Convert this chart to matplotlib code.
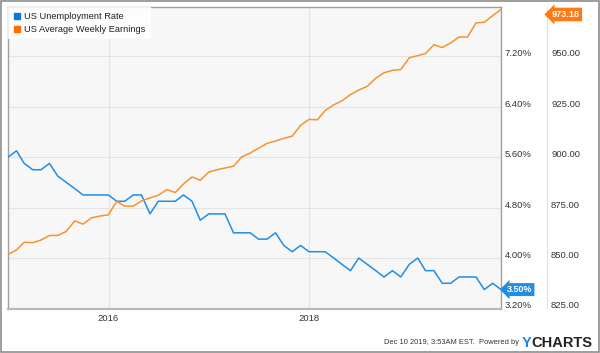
import matplotlib.pyplot as plt
import pandas as pd
from matplotlib.patches import Rectangle
from matplotlib.lines import Line2D

plt.rcParams['font.family'] = ['Liberation Sans', 'DejaVu Sans']

# monthly, Dec 2014 - Nov 2019 (month-end dates)
dates = pd.date_range('2014-12-31', '2019-11-30', freq='ME')
unemployment = [5.6, 5.7, 5.5, 5.4, 5.4, 5.5, 5.3, 5.2, 5.1, 5.0,
                5.0, 5.0, 5.0, 4.9, 4.9, 5.0, 5.0, 4.7, 4.9, 4.9,
                4.9, 5.0, 4.9, 4.6, 4.7, 4.7, 4.7, 4.4, 4.4, 4.4,
                4.3, 4.3, 4.4, 4.2, 4.1, 4.2, 4.1, 4.1, 4.1, 4.0,
                3.9, 3.8, 4.0, 3.9, 3.8, 3.7, 3.8, 3.7, 3.9, 4.0,
                3.8, 3.8, 3.6, 3.6, 3.7, 3.7, 3.7, 3.5, 3.6, 3.5]
earnings = [851.8, 854.0, 857.8, 857.6, 858.9, 861.2, 861.2, 863.2, 868.4, 866.8,
            869.9, 870.8, 871.4, 878.1, 875.7, 875.7, 878.3, 879.8, 881.1, 883.9,
            882.5, 886.7, 890.2, 888.5, 892.6, 893.8, 894.6, 895.5, 900.1, 902.0,
            904.4, 906.8, 908.0, 909.3, 910.4, 915.7, 918.7, 918.5, 923.1, 925.9,
            927.9, 931.0, 933.2, 935.1, 939.1, 941.8, 943.0, 943.4, 949.2, 950.3,
            951.3, 955.7, 954.3, 956.6, 959.5, 959.5, 966.5, 966.8, 970.1, 973.18]
rate_ticks = [3.2, 4.0, 4.8, 5.6, 6.4, 7.2]
earn_ticks = [825, 850, 875, 900, 925, 950]
year_ticks = ['2016-01-01', '2018-01-01']
year_labels = ['2016', '2018']

BLUE = '#1f8ee6'
ORANGE = '#f7922f'

fig = plt.figure(figsize=(6, 3.53), dpi=100)
ax = fig.add_axes([8/600, 1 - 308.5/353, 493/600, 301.5/353])
ax.set_facecolor('#f7f7f7')

ax.plot(dates, unemployment, color=BLUE, lw=1.1, zorder=3)
ax.set_xlim(dates[0], dates[-1])
ax.set_ylim(3.2, 7.98)

ax2 = ax.twinx()
ax2.plot(dates, earnings, color=ORANGE, lw=1.1, zorder=3)
ax2.set_ylim(825, 825 + (7.98 - 3.2) / 0.8 * 25)

# axes styling
for name, sp in ax.spines.items():
    sp.set_color('#a0a0a0')
    sp.set_linewidth(1.0)
ax.spines['bottom'].set_linewidth(1.6)
ax.spines['bottom'].set_color('#b8b8b8')
for name in ['left', 'top', 'bottom']:
    ax2.spines[name].set_visible(False)
ax2.spines['right'].set_position(('outward', 33))
ax2.spines['right'].set_color('#e2e2e2')
ax2.spines['right'].set_linewidth(0.8)

ax.yaxis.tick_right()
ax.set_yticks(rate_ticks)
ax.set_yticklabels([f'{v:.2f}%' for v in rate_ticks])
ax.tick_params(axis='y', length=0, pad=2.5, labelsize=6.8, labelcolor='#333333')
ax2.set_yticks(earn_ticks)
ax2.set_yticklabels([f'{v:.2f}' for v in earn_ticks])
ax2.tick_params(axis='y', length=0, pad=3, labelsize=6.8, labelcolor='#333333')
for lab in ax.get_yticklabels() + ax2.get_yticklabels():
    lab.set_verticalalignment('baseline')

ax.set_xticks(pd.to_datetime(year_ticks))
ax.set_xticklabels(year_labels)
ax.tick_params(axis='x', length=0, pad=4, labelsize=6.8, labelcolor='#333333')
ax.grid(True, color='#e4e4e4', lw=0.8, zorder=0)
ax.set_axisbelow(True)

# legend
handles = [Line2D([], [], marker='s', ls='none', color='#0a78dc', markersize=4.5),
           Line2D([], [], marker='s', ls='none', color='#ff6d00', markersize=4.5)]
leg = ax2.legend(handles, ['US Unemployment Rate', 'US Average Weekly Earnings'],
                 loc='upper left', borderaxespad=0, frameon=True, fancybox=False,
                 framealpha=0.85, edgecolor='none', fontsize=6.7,
                 handlelength=0.8, handletextpad=0.4, labelspacing=0.4,
                 borderpad=0.55)
leg.get_frame().set_facecolor('white')
for t in leg.get_texts():
    t.set_color('#222222')

# last value tags
ax.text(1.012, unemployment[-1], f'{unemployment[-1]:.2f}%',
        transform=ax.get_yaxis_transform(), ha='left', va='center',
        fontsize=6.5, fontweight='bold', color='white',
        bbox=dict(boxstyle='larrow,pad=0.22', fc=BLUE, ec='none'))
ax2.text(1.103, earnings[-1] - 2.5, f'{earnings[-1]:.2f}',
         transform=ax2.get_yaxis_transform(), ha='left', va='center',
         fontsize=6.6, fontweight='bold', color='white',
         bbox=dict(boxstyle='larrow,pad=0.25', fc='#ff7a12', ec='none'))

# footer
fig.text(519/600, 1 - 343/353, 'Dec 10 2019, 3:53AM EST.  Powered by', ha='right',
         va='center', fontsize=5.4, color='#333333')
fig.text(531/600, 1 - 343/353, 'Y', ha='right', va='center', fontsize=10.5,
         fontweight='bold', color='#1a86e0')
fig.text(531/600, 1 - 343/353, 'CHARTS', ha='left', va='center', fontsize=10.5,
         fontweight='bold', color='#222222')

fig.patches.append(Rectangle((0.0015, 0.0025), 0.997, 0.995, transform=fig.transFigure,
                             fill=False, ec='#8c8c8c', lw=1.2))

fig.savefig('out.png', dpi=100)
